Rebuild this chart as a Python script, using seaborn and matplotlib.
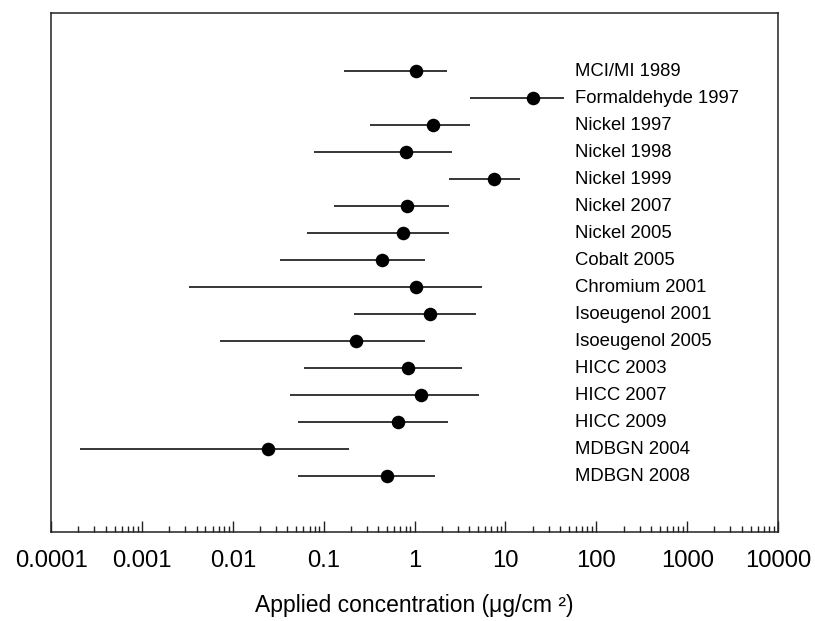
import matplotlib
matplotlib.use("Agg")
import matplotlib.pyplot as plt
import matplotlib.ticker as mticker
import seaborn as sns
import pandas as pd

# allergen / study labels, top to bottom
studies = [
    "MCI/MI 1989", "Formaldehyde 1997", "Nickel 1997", "Nickel 1998",
    "Nickel 1999", "Nickel 2007", "Nickel 2005", "Cobalt 2005",
    "Chromium 2001", "Isoeugenol 2001", "Isoeugenol 2005", "HICC 2003",
    "HICC 2007", "HICC 2009", "MDBGN 2004", "MDBGN 2008",
]
# point estimate and range of applied concentration (ug/cm2)
estimate = [1.04, 20.0, 1.58, 0.80, 7.5, 0.82, 0.74, 0.44,
            1.04, 1.48, 0.225, 0.85, 1.17, 0.66, 0.0246, 0.50]
low = [0.169, 4.07, 0.32, 0.078, 2.41, 0.129, 0.066, 0.033,
       0.0033, 0.217, 0.0072, 0.061, 0.0426, 0.0517, 0.000208, 0.0526]
high = [2.27, 44.0, 4.07, 2.6, 14.4, 2.41, 2.41, 1.30,
        5.6, 4.74, 1.32, 3.3, 5.07, 2.35, 0.191, 1.69]
tick_vals = [1e-4, 1e-3, 1e-2, 1e-1, 1, 10, 100, 1000, 10000]
tick_text = ["0.0001", "0.001", "0.01", "0.1", "1", "10", "100", "1000", "10000"]

df = pd.DataFrame({"study": studies, "est": estimate, "lo": low, "hi": high})
df["pos"] = range(len(df))

sns.set_style("white")
plt.rcParams["font.family"] = ["Liberation Sans", "DejaVu Sans"]

fig = plt.figure(figsize=(8.15, 6.21), dpi=100)
ax = fig.add_axes([0.0626, 0.1433, 0.892, 0.8357])

ax.hlines(df["pos"], df["lo"], df["hi"], color="black", linewidth=1.1)
sns.scatterplot(data=df, x="est", y="pos", ax=ax, color="black", s=95,
                edgecolor="black", linewidth=0, zorder=3, legend=False)

for _, r in df.iterrows():
    ax.text(0.721, r["pos"], r["study"], transform=ax.get_yaxis_transform(),
            va="center", ha="left", fontsize=13.3, color="black")

ax.set_xscale("log")
ax.set_xlim(1e-4, 1e4)
ax.set_ylim(15 + 2.07, -2.15)
ax.set_yticks([])
ax.set_ylabel("")
ax.xaxis.set_major_locator(mticker.FixedLocator(tick_vals))
ax.xaxis.set_major_formatter(mticker.FixedFormatter(tick_text))
ax.xaxis.set_minor_locator(mticker.LogLocator(base=10, subs=range(2, 10), numticks=20))
ax.xaxis.set_minor_formatter(mticker.NullFormatter())
ax.tick_params(axis="x", which="both", bottom=True, top=False)
ax.tick_params(axis="x", which="major", direction="in", length=8, width=1,
               labelsize=17.2, pad=13, color="#222222", labelcolor="black")
ax.tick_params(axis="x", which="minor", direction="in", length=4.5, width=1,
               color="#222222")
ax.set_xlabel("Applied concentration (\u03bcg/cm \u00b2)", fontsize=16.5,
              labelpad=16, color="black")

for s in ax.spines.values():
    s.set_visible(True)
    s.set_color("#222222")
    s.set_linewidth(1.1)

fig.savefig("out.png", dpi=100)
